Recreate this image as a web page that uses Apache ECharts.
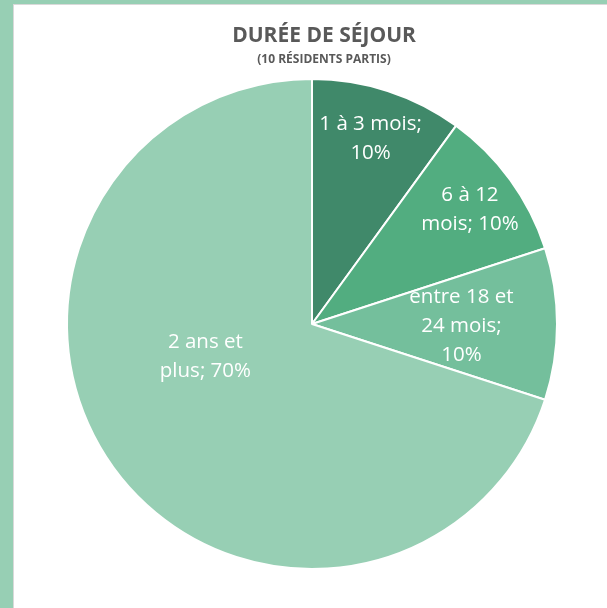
<!DOCTYPE html>
<html>
<head>
<meta charset="utf-8">
<script src="https://cdn.jsdelivr.net/npm/echarts@6/dist/echarts.min.js"></script>
<style>
  html, body { margin: 0; padding: 0; background: #97cfb4; }
  .frame { position: absolute; left: 13px; top: 4px; right: 0; bottom: 0; background: #fff; border-left: 1px solid #d9d9d9; border-top: 1px solid #d9d9d9; }
  #chart { position: absolute; left: 0; top: 0; width: 607px; height: 608px; }
</style>
</head>
<body>
<div class="frame"></div>
<div id="chart"></div>
<script>
const categories = ['1 à 3 mois', '6 à 12 mois', 'entre 18 et 24 mois', '2 ans et plus']
const values = [1, 1, 1, 7]
const labelText = ['1 à 3 mois;\n{p}', '6 à 12\nmois; {p}', 'entre 18 et\n24 mois;\n{p}', '2 ans et\nplus; {p}']
const colors = ['#40896a', '#52ad80', '#74bf9c', '#97cfb4']

const CX = 312, CY = 324, R = 245
// where Excel dropped each label: [fraction of radius, angle in degrees]
const labelPolar = [[0.795, 72.5], [0.795, 35.8], [0.61, -1], [0.455, 197]]

const chart = echarts.init(document.getElementById('chart'), null, { renderer: 'canvas' })
chart.setOption({
  backgroundColor: 'transparent',
  title: {
    text: 'DURÉE DE SÉJOUR',
    subtext: '(10 RÉSIDENTS PARTIS)',
    left: 319, top: 21, textAlign: 'center', itemGap: 7,
    textStyle: { fontFamily: 'Open Sans', fontWeight: 'bold', fontSize: 21, color: '#595959' },
    subtextStyle: { fontFamily: 'Open Sans', fontWeight: 'bold', fontSize: 12, color: '#595959' },
  },
  series: [{
    type: 'pie',
    center: [CX, CY], radius: R,
    startAngle: 90, clockwise: true,
    itemStyle: { borderColor: '#fff', borderWidth: 2 },
    emphasis: { disabled: true },
    label: {
      show: true, position: 'inside',
      fontFamily: 'Open Sans', fontSize: 20.5, lineHeight: 29, color: '#fff',
      align: 'center',
      formatter: p => labelText[p.dataIndex].replace('{p}', Math.round(p.percent) + '%'),
    },
    labelLine: { show: false },
    labelLayout: p => {
      const [f, a] = labelPolar[p.dataIndex]
      const rad = a * Math.PI / 180
      return { x: CX + f * R * Math.cos(rad), y: CY - f * R * Math.sin(rad), align: 'center', verticalAlign: 'middle' }
    },
    data: categories.map((c, i) => ({ name: c, value: values[i], itemStyle: { color: colors[i] } })),
  }],
})
</script>
</body>
</html>
